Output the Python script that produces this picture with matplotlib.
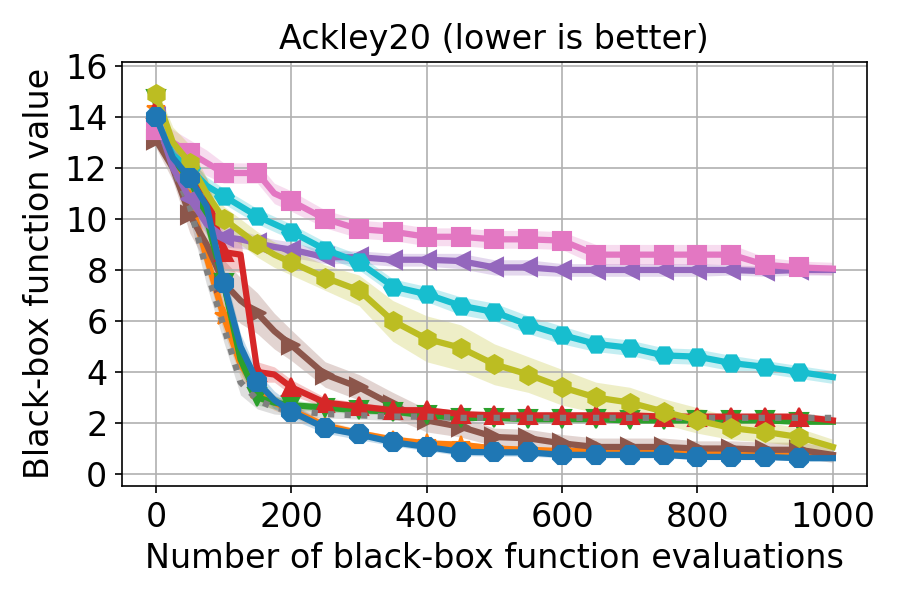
import numpy as np
import matplotlib
matplotlib.use('Agg')
import matplotlib.pyplot as plt

# evaluation counts where the averaged curves were read
evals = [0, 25, 50, 75, 100, 125, 150, 175, 200, 250, 300, 350, 400, 450, 500,
         550, 600, 650, 700, 750, 800, 850, 900, 950, 1000]

# mean best-so-far values (one list per method)
blue = [14.0, 12.4, 11.6, 10.5, 7.5, 5.0, 3.6, 2.9, 2.45, 1.8, 1.55, 1.25, 1.06, 0.87, 0.85,
        0.85, 0.75, 0.75, 0.75, 0.75, 0.67, 0.67, 0.67, 0.62, 0.62]
orange = [14.3, 12.2, 10.8, 8.5, 6.2, 4.3, 3.3, 2.8, 2.5, 1.9, 1.6, 1.35, 1.2, 1.15, 1.0,
          0.95, 0.9, 0.9, 0.85, 0.85, 0.8, 0.8, 0.75, 0.7, 0.67]
green = [14.7, 12.3, 11.6, 10.0, 7.5, 4.5, 3.0, 2.8, 2.7, 2.6, 2.5, 2.45, 2.3, 2.2, 2.2,
         2.15, 2.15, 2.15, 2.1, 2.1, 2.1, 2.1, 2.1, 2.05, 2.05]
red = [14.3, 12.3, 11.8, 11.0, 8.7, 8.6, 4.0, 3.9, 3.4, 2.8, 2.65, 2.5, 2.5, 2.35, 2.3,
       2.3, 2.3, 2.3, 2.3, 2.25, 2.25, 2.25, 2.25, 2.25, 2.1]
purple = [14.0, 12.0, 10.8, 9.8, 9.3, 9.2, 9.05, 8.9, 8.8, 8.5, 8.5, 8.4, 8.4, 8.35, 8.1,
          8.1, 8.0, 8.0, 8.0, 8.0, 8.0, 8.0, 7.95, 8.0, 8.0]
brown = [13.1, 12.0, 10.15, 9.0, 7.5, 6.8, 6.3, 5.6, 5.05, 3.9, 3.4, 2.7, 2.1, 1.85, 1.45,
         1.4, 1.2, 1.06, 1.06, 1.06, 1.0, 1.0, 0.95, 0.95, 0.75]
pink = [13.5, 13.0, 12.6, 12.2, 11.8, 11.8, 11.8, 11.0, 10.7, 10.0, 9.6, 9.5, 9.3, 9.3, 9.2,
        9.2, 9.15, 8.6, 8.6, 8.6, 8.6, 8.6, 8.2, 8.1, 8.05]
gray = [14.2, 12.0, 10.5, 8.0, 5.8, 3.6, 2.9, 2.6, 2.5, 2.35, 2.3, 2.25, 2.25, 2.2, 2.2,
        2.2, 2.2, 2.2, 2.2, 2.2, 2.2, 2.2, 2.2, 2.2, 2.2]
olive = [14.9, 13.0, 12.2, 11.0, 10.0, 9.5, 9.0, 8.6, 8.3, 7.7, 7.2, 6.0, 5.3, 4.95, 4.3,
         3.9, 3.4, 3.0, 2.8, 2.45, 2.1, 1.8, 1.65, 1.45, 1.06]
cyan = [14.0, 12.5, 12.0, 11.3, 10.9, 10.5, 10.1, 9.8, 9.5, 8.8, 8.3, 7.35, 7.05, 6.6, 6.35,
        5.85, 5.45, 5.1, 4.95, 4.65, 4.6, 4.35, 4.2, 4.0, 3.8]

# half width of the shaded bands
blue_sd = [0.3, 0.4, 0.5, 0.6, 0.6, 0.5, 0.4, 0.35, 0.3, 0.2, 0.2, 0.15, 0.15, 0.15, 0.15,
           0.15, 0.12, 0.12, 0.12, 0.12, 0.1, 0.1, 0.1, 0.1, 0.1]
orange_sd = [0.3, 0.4, 0.5, 0.6, 0.6, 0.5, 0.4, 0.3, 0.25, 0.2, 0.15, 0.15, 0.15, 0.15, 0.12,
             0.12, 0.12, 0.12, 0.12, 0.12, 0.1, 0.1, 0.1, 0.1, 0.1]
green_sd = [0.2, 0.4, 0.5, 0.6, 0.6, 0.5, 0.3, 0.25, 0.2, 0.15, 0.15, 0.12, 0.12, 0.1, 0.1,
            0.1, 0.1, 0.1, 0.1, 0.1, 0.1, 0.1, 0.1, 0.1, 0.1]
red_sd = [0.3, 0.5, 0.6, 0.6, 0.7, 0.7, 0.4, 0.3, 0.3, 0.2, 0.15, 0.15, 0.15, 0.12, 0.12,
          0.12, 0.12, 0.12, 0.12, 0.12, 0.12, 0.12, 0.12, 0.12, 0.12]
purple_sd = [0.4, 0.5, 0.5, 0.4, 0.4, 0.35, 0.3, 0.3, 0.3, 0.25, 0.25, 0.25, 0.25, 0.3, 0.3,
             0.3, 0.25, 0.25, 0.25, 0.25, 0.25, 0.2, 0.2, 0.2, 0.2]
brown_sd = [0.3, 0.5, 0.7, 0.8, 0.9, 0.9, 0.8, 0.7, 0.6, 0.5, 0.5, 0.5, 0.45, 0.4, 0.35,
            0.35, 0.35, 0.35, 0.35, 0.35, 0.3, 0.3, 0.3, 0.3, 0.3]
pink_sd = [0.5, 0.5, 0.5, 0.5, 0.4, 0.4, 0.4, 0.4, 0.4, 0.35, 0.35, 0.35, 0.35, 0.35, 0.35,
           0.35, 0.35, 0.4, 0.4, 0.4, 0.4, 0.4, 0.3, 0.25, 0.25]
gray_sd = [0.3, 0.4, 0.5, 0.6, 0.6, 0.5, 0.35, 0.25, 0.2, 0.15, 0.15, 0.15, 0.12, 0.12, 0.12,
           0.12, 0.12, 0.12, 0.12, 0.12, 0.12, 0.12, 0.12, 0.12, 0.12]
olive_sd = [0.3, 0.6, 0.7, 0.6, 0.5, 0.5, 0.5, 0.5, 0.5, 0.5, 0.6, 0.8, 0.9, 0.9, 0.8,
            0.7, 0.7, 0.6, 0.6, 0.5, 0.5, 0.45, 0.4, 0.35, 0.3]
cyan_sd = [0.3, 0.4, 0.4, 0.35, 0.3, 0.3, 0.3, 0.3, 0.3, 0.3, 0.3, 0.3, 0.3, 0.35, 0.35,
           0.35, 0.35, 0.3, 0.3, 0.3, 0.3, 0.3, 0.25, 0.25, 0.25]

# drawing order (later on top), colour, marker, line style
series = [
    (orange, orange_sd, 'tab:orange', '*', '-'),
    (brown, brown_sd, 'tab:brown', '>', '-'),
    (green, green_sd, 'tab:green', 'v', '-'),
    (red, red_sd, 'tab:red', '^', '-'),
    (gray, gray_sd, 'tab:gray', None, ':'),
    (purple, purple_sd, 'tab:purple', '<', '-'),
    (pink, pink_sd, 'tab:pink', 's', '-'),
    (cyan, cyan_sd, 'tab:cyan', 'H', '-'),
    (olive, olive_sd, 'tab:olive', 'h', '-'),
    (blue, blue_sd, 'tab:blue', '8', '-'),
]

x = np.array(evals)
mark_idx = [i for i, e in enumerate(evals) if e % 50 == 0 and e < 1000]

fig = plt.figure(figsize=(6, 4), dpi=150)
ax = fig.add_axes([0.1356, 0.19, 0.8274, 0.707])

for mean, sd, col, mk, ls in series:
    m = np.array(mean)
    s = np.array(sd)
    ax.fill_between(x, m - s, m + s, color=col, alpha=0.25, linewidth=0)
    ax.plot(x, m, color=col, linestyle=ls, linewidth=3, marker=mk,
            markersize=9, markevery=mark_idx)

ax.set_xlim(-50, 1050)
ax.set_ylim(-0.47, 16.16)
ax.set_xticks([0, 200, 400, 600, 800, 1000])
ax.set_yticks([0, 2, 4, 6, 8, 10, 12, 14, 16])
ax.tick_params(labelsize=16)
ax.grid(True)
ax.set_title('Ackley20 (lower is better)', fontsize=16)
ax.set_xlabel('Number of black-box function evaluations', fontsize=16)
ax.set_ylabel('Black-box function value', fontsize=16)

plt.savefig('out.png', dpi=150)
